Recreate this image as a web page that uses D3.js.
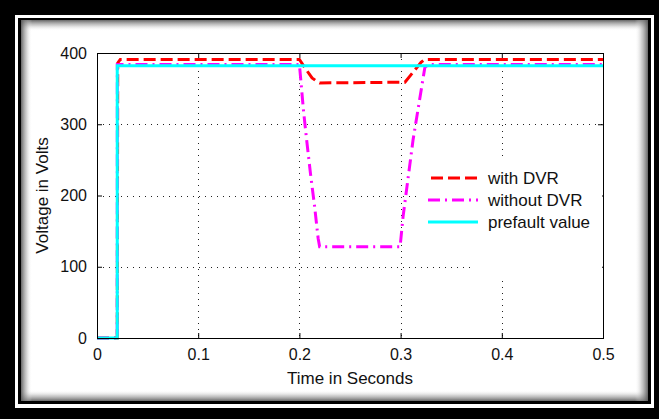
<!DOCTYPE html>
<html>
<head>
<meta charset="utf-8">
<script src="https://cdn.jsdelivr.net/npm/d3@7.9.0/dist/d3.min.js"></script>
<style>
  html, body { margin: 0; padding: 0; background: #000; }
  svg { display: block; }
  text { font-family: "Liberation Sans", Arial, Helvetica, sans-serif; fill: #111; }
</style>
</head>
<body>
<svg id="chart" width="659" height="419"></svg>
<script>
// tick values
const xTicks = [0, 0.1, 0.2, 0.3, 0.4, 0.5];
const yTicks = [0, 100, 200, 300, 400];

// series (time in s, voltage in V)
const withDvrTime = [0, 0.02, 0.0205, 0.023, 0.2, 0.2055, 0.2125, 0.2185, 0.22, 0.3043, 0.3123, 0.3202, 0.324, 0.5];
const withDvrVolts = [0, 0, 386, 391, 391, 379, 365, 359, 358, 359, 373, 387, 391, 391];

const withoutDvrTime = [0, 0.02, 0.0201, 0.2, 0.2015, 0.204, 0.207, 0.211, 0.215, 0.2185, 0.22, 0.2995, 0.3024, 0.3123, 0.324, 0.328, 0.5];
const withoutDvrVolts = [0, 0, 384, 384, 360, 320, 280, 230, 185, 140, 128, 128, 170, 278, 380, 384, 384];

const prefaultTime = [0, 0.02, 0.02, 0.5];
const prefaultVolts = [0, 0, 382, 382];

const series = [
  { name: "with DVR", t: withDvrTime, v: withDvrVolts, color: "#ff0000", dash: "12,5" },
  { name: "without DVR", t: withoutDvrTime, v: withoutDvrVolts, color: "#ff00ff", dash: "12,5,2,5" },
  { name: "prefault value", t: prefaultTime, v: prefaultVolts, color: "#00ffff", dash: null },
];

const W = 659, H = 419;
const svg = d3.select("#chart");
const defs = svg.append("defs");

// ---- picture frame ----
svg.append("rect").attr("width", W).attr("height", H).attr("fill", "#000");
svg.append("rect").attr("x", 15).attr("y", 15).attr("width", 639).attr("height", 393).attr("fill", "#fff");
svg.append("rect").attr("x", 18).attr("y", 18).attr("width", 633).attr("height", 386).attr("fill", "#000");
const inner = { x0: 21, y0: 20, x1: 648, y1: 401 };
svg.append("rect")
  .attr("x", inner.x0).attr("y", inner.y0)
  .attr("width", inner.x1 - inner.x0).attr("height", inner.y1 - inner.y0)
  .attr("fill", "#fff");

function shade(id, x1, y1, x2, y2) {
  const g = defs.append("linearGradient").attr("id", id)
    .attr("x1", x1).attr("y1", y1).attr("x2", x2).attr("y2", y2);
  g.append("stop").attr("offset", 0).attr("stop-color", "#555").attr("stop-opacity", 0.9);
  g.append("stop").attr("offset", 0.5).attr("stop-color", "#999").attr("stop-opacity", 0.45);
  g.append("stop").attr("offset", 1).attr("stop-color", "#fff").attr("stop-opacity", 0);
}
shade("sh-top", 0, 0, 0, 1);
shade("sh-bottom", 0, 1, 0, 0);
shade("sh-left", 0, 0, 1, 0);
shade("sh-right", 1, 0, 0, 0);
const sh = 11;
svg.append("rect").attr("x", inner.x0).attr("y", inner.y0).attr("width", inner.x1 - inner.x0).attr("height", sh).attr("fill", "url(#sh-top)");
svg.append("rect").attr("x", inner.x0).attr("y", inner.y1 - sh).attr("width", inner.x1 - inner.x0).attr("height", sh).attr("fill", "url(#sh-bottom)");
svg.append("rect").attr("x", inner.x0).attr("y", inner.y0).attr("width", sh).attr("height", inner.y1 - inner.y0).attr("fill", "url(#sh-left)");
svg.append("rect").attr("x", inner.x1 - sh - 2).attr("y", inner.y0).attr("width", sh + 2).attr("height", inner.y1 - inner.y0).attr("fill", "url(#sh-right)");

// ---- plot ----
const plot = { left: 97, right: 603, top: 53, bottom: 338 };
const x = d3.scaleLinear().domain([0, 0.5]).range([plot.left, plot.right]);
const y = d3.scaleLinear().domain([0, 400]).range([plot.bottom, plot.top]);

const grid = svg.append("g").attr("stroke", "#222").attr("stroke-width", 1).attr("stroke-dasharray", "1,5");
grid.selectAll(".gx").data(xTicks.slice(1, -1)).join("line")
  .attr("x1", d => Math.round(x(d)) + 0.5).attr("x2", d => Math.round(x(d)) + 0.5)
  .attr("y1", plot.top).attr("y2", plot.bottom);
grid.selectAll(".gy").data(yTicks.slice(1, -1)).join("line")
  .attr("y1", d => Math.round(y(d)) + 0.5).attr("y2", d => Math.round(y(d)) + 0.5)
  .attr("x1", plot.left).attr("x2", plot.right);

const line = d3.line().x(d => x(d[0])).y(d => y(d[1]));
svg.append("g").selectAll("path").data(series).join("path")
  .attr("d", s => line(s.t.map((t, i) => [t, s.v[i]])))
  .attr("fill", "none")
  .attr("stroke", s => s.color)
  .attr("stroke-width", 3)
  .attr("stroke-dasharray", s => s.dash);

// axes with inward ticks on all four sides (MATLAB box)
const tickLen = 5;
svg.append("g").attr("transform", `translate(0,${plot.bottom})`)
  .call(d3.axisBottom(x).tickValues(xTicks).tickSizeInner(-tickLen).tickSizeOuter(0).tickPadding(11).tickFormat(d3.format("")));
svg.append("g").attr("transform", `translate(0,${plot.top})`)
  .call(d3.axisTop(x).tickValues(xTicks).tickSizeInner(-tickLen).tickSizeOuter(0).tickFormat(""));
svg.append("g").attr("transform", `translate(${plot.left},0)`)
  .call(d3.axisLeft(y).tickValues(yTicks).tickSizeInner(-tickLen).tickSizeOuter(0).tickPadding(10));
svg.append("g").attr("transform", `translate(${plot.right},0)`)
  .call(d3.axisRight(y).tickValues(yTicks).tickSizeInner(-tickLen).tickSizeOuter(0).tickFormat(""));
svg.selectAll(".domain").remove();
svg.selectAll(".tick line").attr("stroke", "#000");
svg.selectAll(".tick text").attr("font-size", 16).attr("fill", "#111")
  .attr("font-family", '"Liberation Sans", Arial, sans-serif');

svg.append("rect")
  .attr("x", plot.left + 0.5).attr("y", plot.top + 0.5)
  .attr("width", plot.right - plot.left).attr("height", plot.bottom - plot.top)
  .attr("fill", "none").attr("stroke", "#000").attr("stroke-width", 1);

// axis titles
svg.append("text").attr("x", (plot.left + plot.right) / 2).attr("y", 384)
  .attr("text-anchor", "middle").attr("font-size", 17).text("Time in Seconds");
svg.append("text")
  .attr("transform", `translate(48,${(plot.top + plot.bottom) / 2}) rotate(-90)`)
  .attr("text-anchor", "middle").attr("font-size", 17).text("Voltage in Volts");

// ---- legend ----
svg.append("rect").attr("x", 420).attr("y", 157).attr("width", 182).attr("height", 105).attr("fill", "#fff");
svg.append("rect").attr("x", 474).attr("y", 262).attr("width", 128).attr("height", 19).attr("fill", "#fff");
const legendRows = [178, 200, 222];
const lg = svg.append("g").selectAll("g").data(series).join("g")
  .attr("transform", (d, i) => `translate(0,${legendRows[i]})`);
lg.append("line")
  .attr("x1", (d, i) => i === 0 ? 431 : 428).attr("x2", 478)
  .attr("stroke", d => d.color).attr("stroke-width", 3)
  .attr("stroke-dasharray", d => d.dash);
lg.append("text").attr("x", 488).attr("y", 6).attr("font-size", 17).text(d => d.name);
</script>
</body>
</html>
